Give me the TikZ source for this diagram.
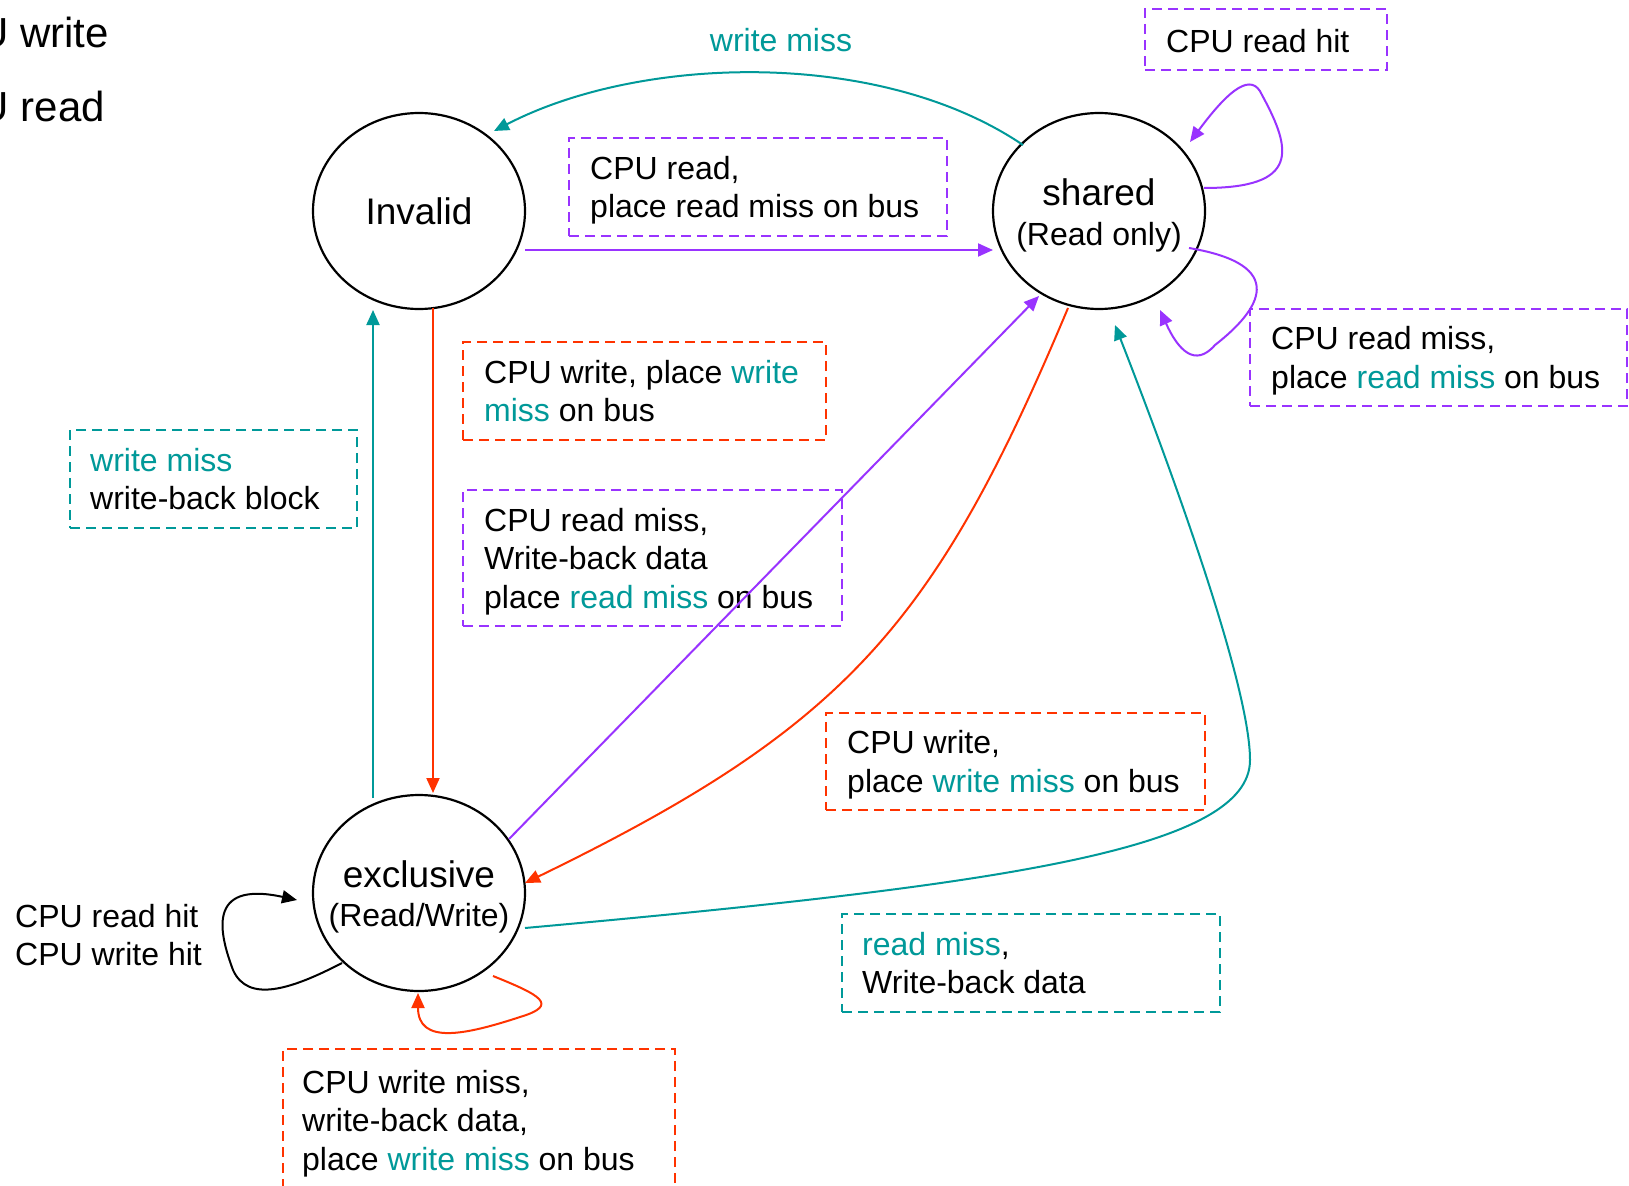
\documentclass[tikz,border=0pt]{standalone}
\usepackage{fontspec}
\setmainfont{Liberation Sans}
\usetikzlibrary{shapes.geometric,arrows.meta,calc}
\definecolor{cpurple}{RGB}{153,51,255}
\definecolor{cteal}{RGB}{0,153,153}
\definecolor{cred}{RGB}{255,51,0}
\newcommand\busword[1]{\textcolor{cteal}{#1}}

\begin{document}
\begin{tikzpicture}[x=1pt,y=-1pt,
  state/.style={ellipse,draw=black,line width=2.2pt,minimum width=212pt,
    minimum height=196pt,inner sep=0pt},
  statename/.style={align=center,inner sep=0pt,font=\fontsize{32}{39.5}\selectfont},
  conn/.style={line width=2pt,-{Triangle[length=15pt,width=13pt]}},
  lblbox/.style={draw,line width=2pt,dash pattern=on 10pt off 6pt,
    anchor=north west,inner sep=0pt,outer sep=0pt},
  lbltext/.style={anchor=west,align=left,inner sep=0pt,text depth=0pt,
    font=\fontsize{32}{38.4}\selectfont},
  big/.style={font=\fontsize{42}{50}\selectfont}]

\fill[white] (0,0) rectangle (1629,1185);
\useasboundingbox (0,0) rectangle (1629,1185);

% legend fragments at the left edge
\node[big,anchor=base east,inner sep=0pt] (lgw) at (109,48) {CPU write};
\node[big,anchor=base east,inner sep=0pt] (lgr) at (105,122) {CPU read};

% states
\node[state] (inv) at (419,211) {};
\node[state] (shr) at (1099,211) {};
\node[state] (exc) at (419,893) {};
\node[statename] (invt) at (inv.center) {\fontsize{37}{39.5}\selectfont Invalid};
\node[statename] (shrt) at ($(shr.center)+(0,4.5)$)
  {{\fontsize{37}{39.5}\selectfont shared}\\(Read only)};
\node[statename] (exct) at ($(exc.center)+(0,4)$)
  {{\fontsize{37}{39.5}\selectfont exclusive}\\(Read/Write)};

% dashed label boxes
\node[lblbox,draw=cpurple,minimum width=242pt,minimum height=61pt] (bhit) at (1145,9) {};
\node[lbltext] (thit) at ($(bhit.west)+(21,1)$) {CPU read hit};

\node[lblbox,draw=cpurple,minimum width=378pt,minimum height=98pt] (brd) at (569,138) {};
\node[lbltext] (trd) at ($(brd.west)+(21,0)$) {CPU read,\\place read miss on bus};

\node[lblbox,draw=cpurple,minimum width=377pt,minimum height=97pt] (bsrm) at (1250,309) {};
\node[lbltext] (tsrm) at ($(bsrm.west)+(21,0)$) {CPU read miss,\\place \busword{read miss} on bus};

\node[lblbox,draw=cred,minimum width=363pt,minimum height=98pt] (biw) at (463,342) {};
\node[lbltext] (tiw) at ($(biw.west)+(21,0)$) {CPU write, place \busword{write}\\\busword{miss} on bus};

\node[lblbox,draw=cteal,minimum width=287pt,minimum height=98pt] (bwm) at (70,430) {};
\node[lbltext] (twm) at ($(bwm.west)+(20,0)$) {\busword{write miss}\\write-back block};

\node[lblbox,draw=cpurple,minimum width=379pt,minimum height=136pt] (berm) at (463,490) {};
\node[lbltext] (term) at ($(berm.west)+(21,0)$) {CPU read miss,\\Write-back data\\place \busword{read miss} on bus};

\node[lblbox,draw=cred,minimum width=379pt,minimum height=97pt] (bsw) at (826,713) {};
\node[lbltext] (tsw) at ($(bsw.west)+(21,0)$) {CPU write,\\place \busword{write miss} on bus};

\node[lblbox,draw=cteal,minimum width=378pt,minimum height=98pt] (brm) at (842,914) {};
\node[lbltext] (trm) at ($(brm.west)+(20,0)$) {\busword{read miss},\\Write-back data};

\node[lblbox,draw=cred,minimum width=392pt,minimum height=142pt] (bewm) at (283,1049) {};
\node[lbltext] (tewm) at ($(bewm.west)+(19,0)$) {CPU write miss,\\write-back data,\\place \busword{write miss} on bus};

% plain labels
\node[font=\fontsize{32}{38}\selectfont,text=cteal,inner sep=0pt] (twmtop) at (781,40) {write miss};
\node[lbltext] (thits) at (15,935) {CPU read hit\\CPU write hit};

% transitions
\draw[conn,cpurple] ($(inv.center)+(106,39)$) -- ($(shr.center)+(-106,39)$);
\draw[conn,cteal] ($(shr.center)+(-76,-66)$) .. controls (880,48) and (640,55) .. ($(inv.center)+(75,-80)$);
\draw[conn,cpurple] ($(shr.center)+(105,-23)$) .. controls (1300,188) and (1292,150) .. (1262,95)
  .. controls (1252,72) and (1230,88) .. ($(shr.center)+(91,-69)$);
\draw[conn,cpurple] ($(shr.center)+(90,37)$) .. controls (1290,265) and (1260,310) .. (1215,345)
  .. controls (1195,368) and (1178,350) .. ($(shr.center)+(61,99)$);
\draw[conn,cred] ($(inv.center)+(14,97)$) -- ($(exc.center)+(14,-100)$);
\draw[conn,cteal] ($(exc.center)+(-46,-95)$) -- ($(inv.center)+(-46,99)$);
\draw[conn,cpurple] ($(exc.center)+(90,-54)$) -- ($(shr.center)+(-60,85)$);
\draw[conn,cred] ($(shr.center)+(-31,97)$) .. controls (935,625) and (846,727) .. ($(exc.center)+(106,-10)$);
\draw[conn,cteal] ($(exc.center)+(106,35)$) .. controls (1000,885) and (1250,850) .. (1250,760)
  .. controls (1250,680) and (1160,440) .. ($(shr.center)+(16,114)$);
\draw[conn,black] ($(exc.center)+(-77,70)$) .. controls (290,990) and (248,1003) .. (233,970)
  .. controls (220,935) and (205,880) .. ($(exc.center)+(-122,7)$);
\draw[conn,cred] ($(exc.center)+(74,83)$) .. controls (540,995) and (560,1005) .. (520,1017)
  .. controls (465,1035) and (418,1045) .. ($(exc.center)+(-1,100)$);
\end{tikzpicture}
\end{document}
